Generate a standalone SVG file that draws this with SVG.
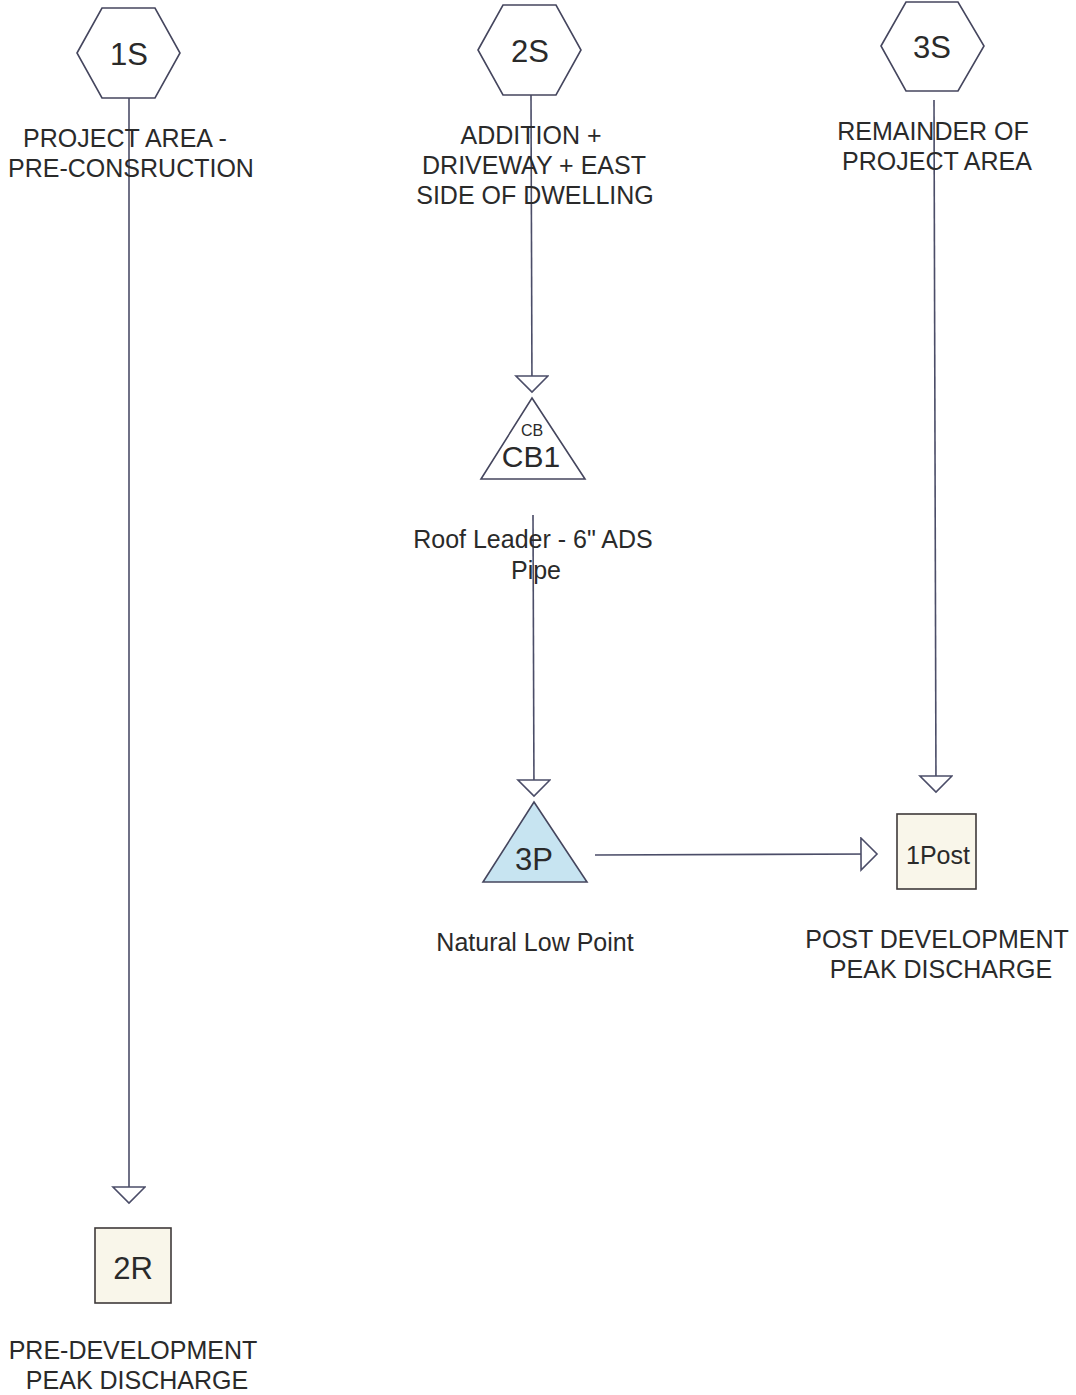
<svg xmlns="http://www.w3.org/2000/svg" width="1076" height="1395" viewBox="0 0 1076 1395">
<defs>
<style>
.ln{stroke:#4b4d68;stroke-width:1.6;fill:none}
.sh{stroke:#45465e;stroke-width:1.6}
.t{font-family:"Liberation Sans",Arial,sans-serif;fill:#2a2a2a;text-anchor:middle}
.lab{font-size:25px}
.id{font-size:31px}
</style>
<marker id="ah" markerUnits="userSpaceOnUse" markerWidth="20" markerHeight="36" refX="17" refY="17" orient="auto" viewBox="0 0 20 36">
<path d="M1,1 L17,17 L1,33 Z" fill="#fff" stroke="#4b4d68" stroke-width="1.6"/>
</marker>
</defs>
<rect width="1076" height="1395" fill="#fff"/>
<g id="connectors">
<line class="ln" x1="129" y1="98" x2="129" y2="1203" marker-end="url(#ah)"/>
<line class="ln" x1="531" y1="95" x2="532" y2="392" marker-end="url(#ah)"/>
<line class="ln" x1="533" y1="515" x2="534" y2="796" marker-end="url(#ah)"/>
<line class="ln" x1="934" y1="100" x2="936" y2="792" marker-end="url(#ah)"/>
<line class="ln" x1="595" y1="855" x2="877" y2="854" marker-end="url(#ah)"/>
</g>
<g id="n1S">
<polygon class="sh" fill="#fff" points="77,53 102,8 155,8 180,53 155,98 102,98"/>
<text class="t id" x="129" y="65">1S</text>
<text class="t lab" x="125" y="147">PROJECT AREA -</text>
<text class="t lab" x="131" y="177">PRE-CONSRUCTION</text>
</g>
<g id="n2S">
<polygon class="sh" fill="#fff" points="478,50 503,5 556,5 581,50 556,95 503,95"/>
<text class="t id" x="530" y="62">2S</text>
<text class="t lab" x="531" y="144">ADDITION +</text>
<text class="t lab" x="534" y="174">DRIVEWAY + EAST</text>
<text class="t lab" x="535" y="204">SIDE OF DWELLING</text>
</g>
<g id="n3S">
<polygon class="sh" fill="#fff" points="881,46 906,2 958,2 984,46 958,91 906,91"/>
<text class="t id" x="932" y="58">3S</text>
<text class="t lab" x="933" y="140">REMAINDER OF</text>
<text class="t lab" x="937" y="170">PROJECT AREA</text>
</g>
<g id="nCB1">
<polygon class="sh" fill="#fff" points="532,398 585,479 481,479"/>
<text class="t" font-size="16" x="532" y="436">CB</text>
<text class="t" font-size="30" x="531" y="467">CB1</text>
<text class="t lab" x="533" y="548">Roof Leader - 6" ADS</text>
<text class="t lab" x="536" y="579">Pipe</text>
</g>
<g id="n3P">
<polygon class="sh" fill="#c7e4f1" points="534,802 587,882 483,882"/>
<text class="t id" x="534" y="870">3P</text>
<text class="t lab" x="535" y="951">Natural Low Point</text>
</g>
<g id="n1Post">
<rect x="897" y="814" width="79" height="75" fill="#f9f6ea" stroke="#3f3a3a" stroke-width="1.6"/>
<text class="t" font-size="25" x="938" y="864">1Post</text>
<text class="t lab" x="937" y="948">POST DEVELOPMENT</text>
<text class="t lab" x="941" y="978">PEAK DISCHARGE</text>
</g>
<g id="n2R">
<rect x="95" y="1228" width="76" height="75" fill="#f9f6ea" stroke="#3f3a3a" stroke-width="1.6"/>
<text class="t id" x="133" y="1279">2R</text>
<text class="t lab" x="133" y="1359">PRE-DEVELOPMENT</text>
<text class="t lab" x="137" y="1389">PEAK DISCHARGE</text>
</g>
</svg>
